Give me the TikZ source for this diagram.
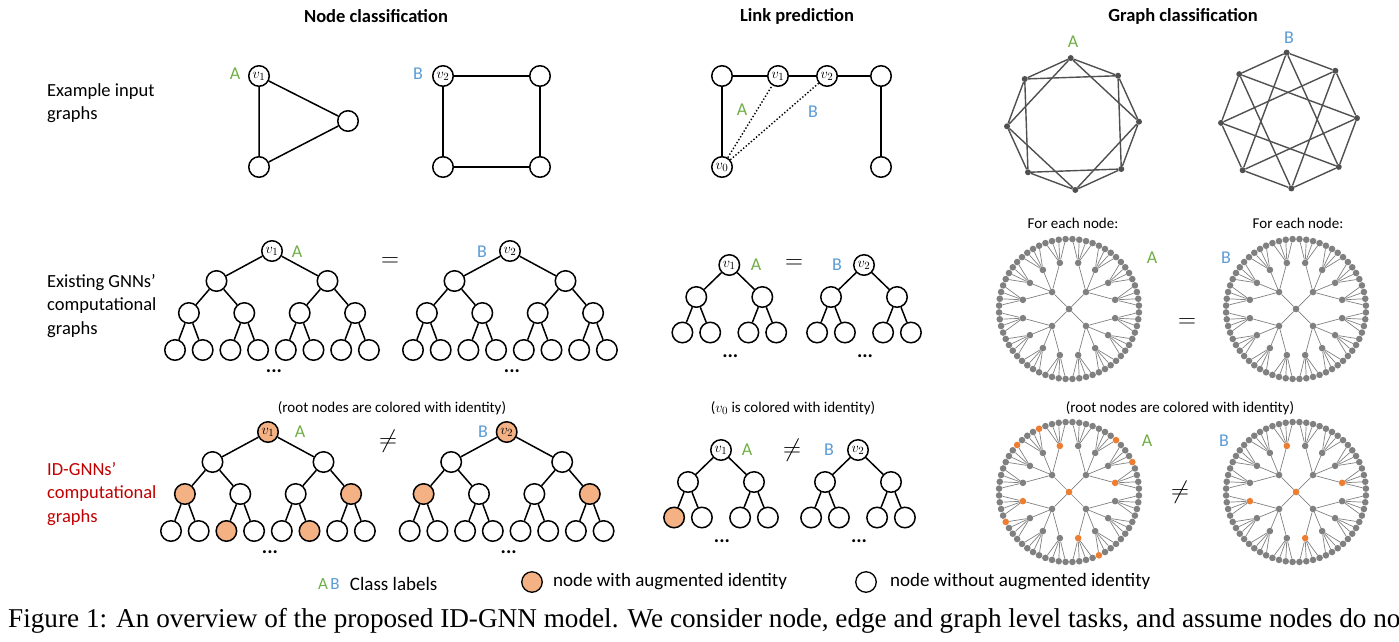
\documentclass[tikz,border=0pt]{standalone}
\usepackage{fontspec}
\setmainfont{Carlito}
\newfontfamily\capfont{Liberation Serif}
\usetikzlibrary{positioning}

\definecolor{clsA}{HTML}{70AD47}
\definecolor{clsB}{HTML}{5B9BD5}
\definecolor{idred}{HTML}{C00000}
\definecolor{idpeach}{HTML}{F4B183}
\definecolor{idorange}{HTML}{ED7D31}
\definecolor{dotgray}{HTML}{808080}
\definecolor{octgray}{HTML}{505050}

\tikzset{
  tnode/.style={circle, draw=black, line width=1.5pt, fill=white,
    minimum size=20.5pt, inner sep=0pt, font=\fontsize{15}{15}\selectfont},
  hl/.code={\ifcsname hl@#1\endcsname\pgfkeysalso{fill=idpeach}\fi},
  rdot/.style={circle, fill=dotgray, inner sep=0pt, minimum size=6.6pt},
  rhl/.code={\ifcsname hl@#1\endcsname\pgfkeysalso{fill=idorange}\fi},
  odot/.style={circle, fill=octgray, inner sep=0pt, minimum size=6pt},
  tedge/.style={line width=1.5pt},
  redge/.style={dotgray, line width=0.7pt},
  oedge/.style={octgray, line width=1.4pt},
  clsa/.style={text=clsA, inner sep=1pt, font=\fontsize{18}{18}\selectfont},
  clsb/.style={text=clsB, inner sep=1pt, font=\fontsize{18}{18}\selectfont},
  rowlabel/.style={anchor=west, align=left, inner sep=0pt,
    font=\fontsize{18.5}{23.3}\selectfont},
  coltitle/.style={font=\fontsize{18.5}{20}\selectfont\bfseries},
  note/.style={font=\fontsize{15}{16}\selectfont},
  relsign/.style={font=\fontsize{25}{25}\selectfont},
  more/.style={font=\fontsize{20}{20}\selectfont\bfseries},
  legendtxt/.style={anchor=west, inner sep=0pt, font=\fontsize{19}{20}\selectfont}
}

% nodes carrying the augmented identity
\foreach \h in {ia-r,ia-2-0,ia-2-3,ia-3-2,ia-3-5,ib-r,ib-2-0,ib-2-3,lia-2-0,
  ria-c,ria-2-0,ria-2-4,ria-2-8,ria-2-12,ria-3-4,ria-3-8,ria-3-20,ria-3-24,
  ria-3-36,ria-3-52,rib-c,rib-2-0,rib-2-4,rib-2-8,rib-2-12}
  {\expandafter\gdef\csname hl@\h\endcsname{}}

\begin{document}
\begin{tikzpicture}[x=1pt, y=-1pt]
\useasboundingbox (0,0) rectangle (1399,641);
\clip (0,0) rectangle (1399,641);

% Column titles
\node[coltitle] (t-node) at (376,16) {Node classification};
\node[coltitle] (t-link) at (797,16) {Link prediction};
\node[coltitle] (t-graph) at (1183,16) {Graph classification};

% Row labels
\node[rowlabel] (r-input) at (47,103.5) {Example input\\graphs};
\node[rowlabel] (r-gnn) at (47,306) {Existing GNNs’\\computational\\graphs};
\node[rowlabel, text=idred] (r-idgnn) at (47,494) {ID-GNNs’\\computational\\graphs};

% Node classification: input graphs
\node[tnode] (ga-v) at (259,76) {$v_1$};
\node[tnode] (ga-r) at (348,121) {};
\node[tnode] (ga-b) at (259,167) {};
\draw[tedge] (ga-v) -- (ga-r) -- (ga-b) -- (ga-v);
\node[clsa] (ga-lab) at (235,74) {A};

\node[tnode] (gb-v) at (443,76) {$v_2$};
\node[tnode] (gb-r) at (540,76) {};
\node[tnode] (gb-d) at (540,167) {};
\node[tnode] (gb-b) at (443,167) {};
\draw[tedge] (gb-v) -- (gb-r) -- (gb-d) -- (gb-b) -- (gb-v);
\node[clsb] (gb-lab) at (418,74) {B};

% Node classification: computational trees
\foreach \t/\rx/\ry/\v in {ea/272/251/1, eb/510/251/2, ia/268/432/1, ib/506.7/432/2} {
  \node[tnode, hl=\t-r] (\t-r) at (\rx,\ry) {$v_{\v}$};
  \foreach \i in {0,1} {
    \node[tnode, hl=\t-1-\i] (\t-1-\i) at (\rx-55.5+111*\i, \ry+30) {};
    \draw[tedge] (\t-r) -- (\t-1-\i);
  }
  \foreach \j in {0,...,3} {
    \pgfmathtruncatemacro\p{\j/2}
    \node[tnode, hl=\t-2-\j] (\t-2-\j) at (\rx-83.1+55.4*\j, \ry+62) {};
    \draw[tedge] (\t-1-\p) -- (\t-2-\j);
  }
  \foreach \k in {0,...,7} {
    \pgfmathtruncatemacro\p{\k/2}
    \node[tnode, hl=\t-3-\k] (\t-3-\k) at (\rx-97+27.7*\k, \ry+99) {};
    \draw[tedge] (\t-2-\p) -- (\t-3-\k);
  }
  \node[more] (\t-more) at (\rx+2, \ry+120) {...};
}
\node[clsa] (ea-lab) at (297,252) {A};
\node[clsb] (eb-lab) at (482,252) {B};
\node[relsign] (e-eq) at (390,262) {$=$};
\node[note] (i-note) at (392,408) {(root nodes are colored with identity)};
\node[clsa] (ia-lab) at (300,432) {A};
\node[clsb] (ib-lab) at (483,432) {B};
\node[relsign] (i-neq) at (388,441) {$\neq$};

% Link prediction: input graph
\node[tnode] (lg-a) at (722,76) {};
\node[tnode] (lg-v1) at (778,76) {$v_1$};
\node[tnode] (lg-v2) at (827,76) {$v_2$};
\node[tnode] (lg-d) at (881,76) {};
\node[tnode] (lg-v0) at (722,167) {$v_0$};
\node[tnode] (lg-e) at (881,167) {};
\draw[tedge] (lg-v0) -- (lg-a) -- (lg-v1) -- (lg-v2) -- (lg-d) -- (lg-e);
\draw[line width=1.4pt, dotted] (lg-v0) -- (lg-v1) (lg-v0) -- (lg-v2);
\node[clsa] (lg-labA) at (742,110) {A};
\node[clsb] (lg-labB) at (813,112) {B};

% Link prediction: computational trees
\foreach \t/\rx/\ry/\v in {lea/729.3/265/1, leb/864/265/2, lia/721/450/1, lib/858/450/2} {
  \node[tnode] (\t-r) at (\rx,\ry) {$v_{\v}$};
  \foreach \i in {0,1} {
    \node[tnode] (\t-1-\i) at (\rx-33+66*\i, \ry+32) {};
    \draw[tedge] (\t-r) -- (\t-1-\i);
  }
  \foreach \j in {0,...,3} {
    \pgfmathtruncatemacro\p{\j/2}
    \node[tnode, hl=\t-2-\j] (\t-2-\j) at (\rx-46.9+27.8*\j+10.4*\p, \ry+67.5) {};
    \draw[tedge] (\t-1-\p) -- (\t-2-\j);
  }
  \node[more] (\t-more) at (\rx+1, \ry+91) {...};
}
\node[clsa] (lea-lab) at (756,265) {A};
\node[relsign] (le-eq) at (794,264) {$=$};
\node[clsb] (leb-lab) at (837,265) {B};
\node[note] (li-note) at (793,408) {($v_0$ is colored with identity)};
\node[clsa] (lia-lab) at (747,450) {A};
\node[relsign] (li-neq) at (792,450) {$\neq$};
\node[clsb] (lib-lab) at (829,450) {B};

% Graph classification: two 4-regular octagons
\foreach \g/\cx/\cy/\rr/\s in {oa/1073/124/66/2, ob/1289/120.5/68/3} {
  \begin{scope}[shift={(\cx,\cy)}, yscale=-1]
    \foreach \i in {0,...,7}
      \node[odot] (\g-\i) at (92-45*\i:\rr) {};
    \foreach \i in {0,...,7} {
      \pgfmathtruncatemacro\nx{mod(\i+1,8)}
      \pgfmathtruncatemacro\ns{mod(\i+\s,8)}
      \draw[oedge] (\g-\i) -- (\g-\nx) (\g-\i) -- (\g-\ns);
    }
  \end{scope}
}
\node[clsa] (oa-lab) at (1073,42) {A};
\node[clsb] (ob-lab) at (1289,38) {B};

% Graph classification: radial computational trees
\foreach \t/\cx/\cy in {rea/1069/309, reb/1296/309, ria/1069/492, rib/1296/492} {
  \begin{scope}[shift={(\cx,\cy)}, yscale=-1]
    \node[rdot, rhl=\t-c] (\t-c) at (0,0) {};
    \foreach \i in {0,...,3} {
      \node[rdot, rhl=\t-1-\i] (\t-1-\i) at (45+90*\i:24) {};
      \draw[redge] (\t-c) -- (\t-1-\i);
    }
    \foreach \k in {0,...,15} {
      \pgfmathtruncatemacro\p{\k/4}
      \node[rdot, rhl=\t-2-\k] (\t-2-\k) at (11.25+22.5*\k:47) {};
      \draw[redge] (\t-1-\p) -- (\t-2-\k);
    }
    \foreach \m in {0,...,63} {
      \pgfmathtruncatemacro\p{\m/4}
      \node[rdot, rhl=\t-3-\m] (\t-3-\m) at (2.8125+5.625*\m:70) {};
      \draw[redge] (\t-2-\p) -- (\t-3-\m);
    }
  \end{scope}
}
\node[note] (rea-note) at (1073,223) {For each node:};
\node[note] (reb-note) at (1298,223) {For each node:};
\node[clsa] (rea-lab) at (1152,258) {A};
\node[clsb] (reb-lab) at (1226,258) {B};
\node[relsign] (re-eq) at (1187,323) {$=$};
\node[note] (ri-note) at (1180,408) {(root nodes are colored with identity)};
\node[clsa] (ria-lab) at (1147,441) {A};
\node[clsb] (rib-lab) at (1224,441) {B};
\node[relsign] (ri-neq) at (1180,492) {$\neq$};

% Legend
\node[clsa, font=\fontsize{17}{18}\selectfont] (lg-A) at (323,584) {A};
\node[clsb, font=\fontsize{17}{18}\selectfont, right=0pt of lg-A] (lg-B) {B};
\node[legendtxt, right=9pt of lg-B] (lg-cls) {Class labels};
\node[tnode, line width=1.3pt, fill=idpeach] (lg-with) at (532,582) {};
\node[legendtxt, right=10pt of lg-with] (lg-withtxt) {node with augmented identity};
\node[tnode, line width=1.3pt] (lg-without) at (866,582) {};
\node[legendtxt, right=13pt of lg-without] (lg-withouttxt) {node without augmented identity};

% Caption
\node[anchor=west, inner sep=0pt, font=\capfont\fontsize{27.2}{30}\selectfont] (caption)
  at (8,621) {Figure 1: An overview of the proposed ID-GNN model. We consider node, edge and graph level tasks, and assume nodes do not};

\end{tikzpicture}
\end{document}
